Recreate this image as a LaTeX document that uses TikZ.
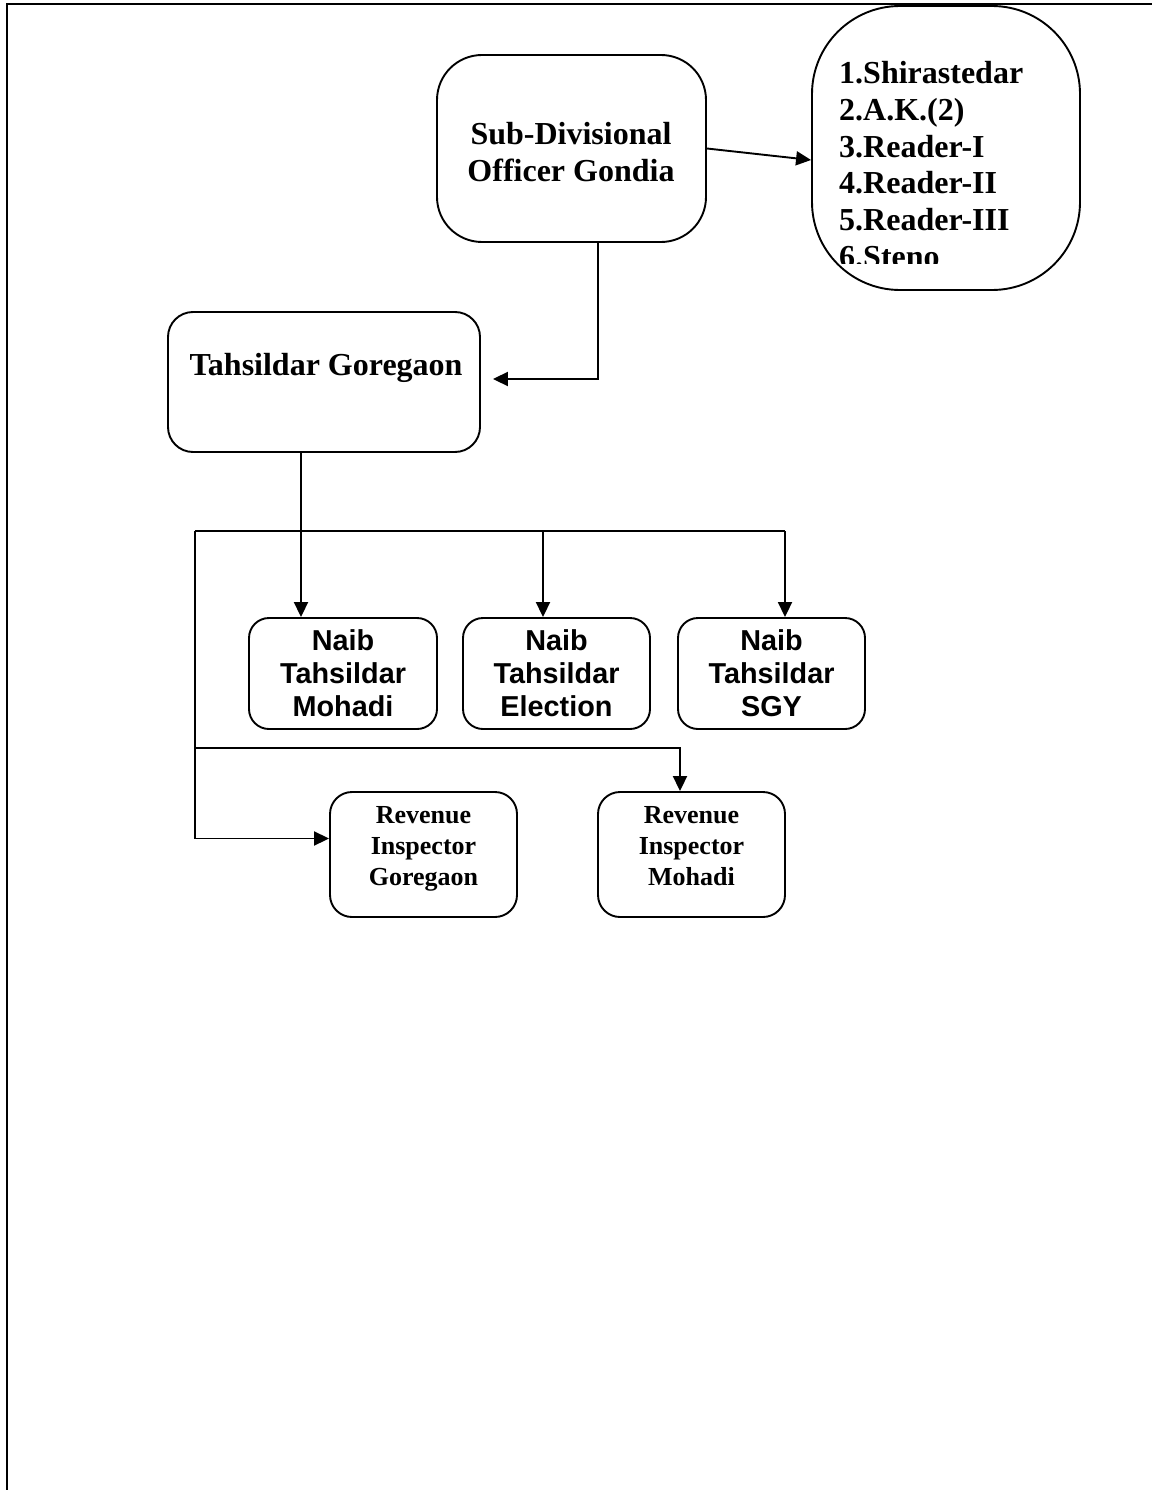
\documentclass[tikz,border=0pt]{standalone}
\usepackage{fontspec}
\setmainfont{Liberation Serif}
\newfontfamily\sansf{Liberation Sans}
\usetikzlibrary{arrows.meta,calc}
\begin{document}
\begin{tikzpicture}[x=1pt,y=-1pt]
\tikzset{
  frame/.style={line width=2.4pt},
  box/.style={draw, line width=1.9pt, rounded corners=#1, inner sep=0pt},
  box/.default=20pt,
  conn/.style={line width=1.9pt},
  arr/.style={conn, -{Triangle[length=15pt,width=14pt]}},
  serifL/.style={font=\fontsize{32}{36.5}\selectfont\bfseries, align=center, inner sep=0pt},
  listtxt/.style={font=\fontsize{32}{36.8}\selectfont\bfseries, align=left, inner sep=0pt},
  naibtxt/.style={font=\sansf\fontsize{28.8}{33}\selectfont\bfseries, align=center},
  revtxt/.style={font=\fontsize{26}{31}\selectfont\bfseries, align=center, inner sep=0pt, anchor=north},
}
\useasboundingbox (0,0) rectangle (1152,1490);
% page frame
\draw[frame] (7,1490) -- (7,4) -- (1152,4);

% boxes
\node[box=45pt, minimum width=269pt, minimum height=187pt] (sdo) at (571.5,148.5) {};
\node[serifL] (sdoT) at (571,152) {Sub-Divisional\\Officer Gondia};

\node[box=88pt, minimum width=268pt, minimum height=284pt] (list) at (946,148) {};
\begin{scope}
  \clip (812,8) rectangle (1080,263);
  \node[listtxt, anchor=north west] (listT) at (839,61)
    {1.Shirastedar\\2.A.K.(2)\\3.Reader-I\\4.Reader-II\\5.Reader-III\\6.Steno};
\end{scope}

\node[box=25pt, minimum width=312pt, minimum height=140pt] (tah) at (324,382) {};
\node[serifL, anchor=base] (tahT) at (326,375) {Tahsildar Goregaon};

\node[box=20pt, naibtxt, minimum width=188pt, minimum height=111pt] (nm) at (343,673.5) {Naib\\Tahsildar\\Mohadi};
\node[box=20pt, naibtxt, minimum width=187pt, minimum height=111pt] (ne) at (556.5,673.5) {Naib\\Tahsildar\\Election};
\node[box=20pt, naibtxt, minimum width=187pt, minimum height=111pt] (ns) at (771.5,673.5) {Naib\\Tahsildar\\SGY};

\node[box=22pt, minimum width=187pt, minimum height=125pt] (rg) at (423.5,854.5) {};
\node[revtxt] (rgT) at (423.5,806.5) {Revenue\\Inspector\\Goregaon};
\node[box=22pt, minimum width=187pt, minimum height=125pt] (rm) at (691.5,854.5) {};
\node[revtxt] (rmT) at (691.5,806.5) {Revenue\\Inspector\\Mohadi};

% connectors
\draw[arr] (sdo.east) -- ($(list.west)+(0,12)$);
\draw[arr] ($(sdo.south)+(26.5,0)$) |- ($(tah.east)+(12,-3)$);

\coordinate (tdrop) at ($(tah.south)+(-23,0)$);
\draw[arr] (tdrop) -- (tdrop |- nm.north);

\coordinate (busL) at (195,531);
\coordinate (busM) at (543,531);
\coordinate (busR) at (785,531);
\draw[conn] (busL) -- (busR);
\draw[arr] (busM) -- (busM |- ne.north);
\draw[arr] (busR) -- (busR |- ns.north);

\coordinate (bus2L) at (195,748);
\coordinate (bus2R) at (680,748);
\draw[conn] (busL) -- (bus2L);
\draw[arr] (bus2L) |- ($(rg.west)+(0,-16)$);
\draw[arr] (bus2L) -- (bus2R) -- (bus2R |- rm.north);
\end{tikzpicture}
\end{document}
